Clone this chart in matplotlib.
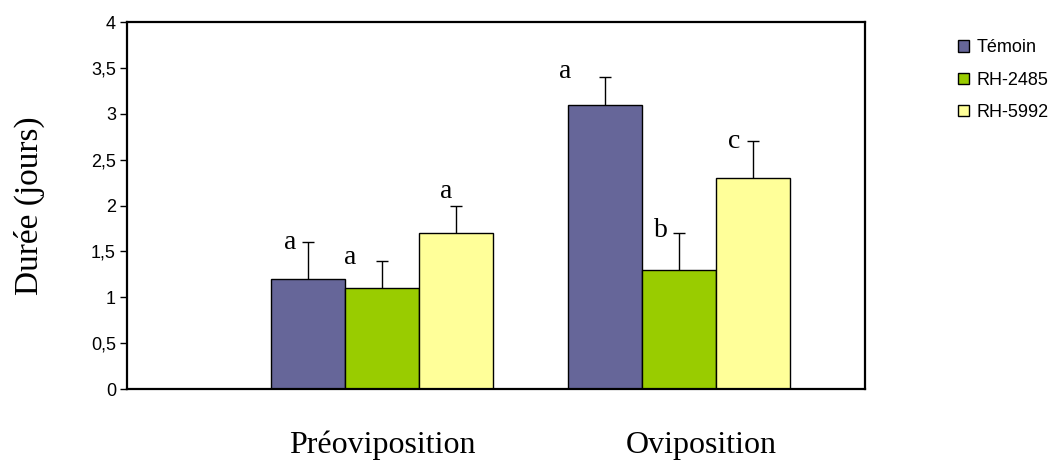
import numpy as np
import matplotlib
matplotlib.use('Agg')
import matplotlib.pyplot as plt
from matplotlib.patches import Patch
from matplotlib.transforms import ScaledTranslation

# Data
phases = ['Préoviposition', 'Oviposition']
treatments = ['Témoin', 'RH-2485', 'RH-5992']
means = {'Témoin': [1.2, 3.1], 'RH-2485': [1.1, 1.3], 'RH-5992': [1.7, 2.3]}
errs = {'Témoin': [0.4, 0.3], 'RH-2485': [0.3, 0.4], 'RH-5992': [0.3, 0.4]}
letters = {'Témoin': ['a', 'a'], 'RH-2485': ['a', 'b'], 'RH-5992': ['a', 'c']}
colors = ['#666699', '#99CC00', '#FFFF99']

# letter offsets (points) relative to error bar top
letter_off = {'Témoin': [(-13, 0), (-29, 4)],
              'RH-2485': [(-23, 2), (-13, 2)],
              'RH-5992': [(-7, 10), (-14, 0)]}

fig = plt.figure(figsize=(10.5, 4.61), dpi=100)
ax = fig.add_axes([0.121, 0.156, 0.703, 0.796])

x = np.arange(len(phases))
w = 0.249
handles = []
for i, t in enumerate(treatments):
    pos = x + (i - 1) * w
    ax.bar(pos, means[t], w, color=colors[i], edgecolor='black', linewidth=1, zorder=2)
    eb = ax.errorbar(pos, means[t], yerr=[np.zeros(len(phases)), errs[t]], fmt='none',
                     ecolor='black', elinewidth=1, capsize=4, capthick=1, zorder=3)
    eb[1][0].set_visible(False)  # no cap at bar top
    for j in range(len(phases)):
        dx, dy = letter_off[t][j]
        ax.annotate(letters[t][j], (pos[j], means[t][j] + errs[t][j]),
                    xytext=(dx, dy), textcoords='offset points',
                    ha='center', va='center', fontsize=20, family='Liberation Serif')
    handles.append(Patch(facecolor=colors[i], edgecolor='black', label=t))

ax.set_ylim(0, 4)
ax.set_xlim(-0.859, 1.626)
yt = np.arange(0, 4.01, 0.5)
ax.set_yticks(yt)
ax.set_yticklabels([f'{v:g}'.replace('.', ',') for v in yt],
                   family='Liberation Sans', fontsize=13)
ax.set_xticks(x)
ax.set_xticklabels(phases, family='Liberation Serif', fontsize=23)
ax.tick_params(axis='x', length=0, pad=30)
ax.tick_params(axis='y', direction='out', length=5, width=1, pad=3)
# Oviposition label sits a bit right of its group
lab = ax.get_xticklabels()[1]
lab.set_transform(lab.get_transform() + ScaledTranslation(0.22, 0, fig.dpi_scale_trans))
for s in ax.spines.values():
    s.set_linewidth(1.6)
ax.set_ylabel('Durée (jours)', family='Liberation Serif', fontsize=24, labelpad=33)

fig.legend(handles=handles, loc='upper left', bbox_to_anchor=(0.897, 0.95),
           frameon=False, prop={'family': 'Liberation Sans', 'size': 13},
           handlelength=0.6, handleheight=0.6, handletextpad=0.4, labelspacing=0.85)

fig.savefig('out.png', dpi=100)
